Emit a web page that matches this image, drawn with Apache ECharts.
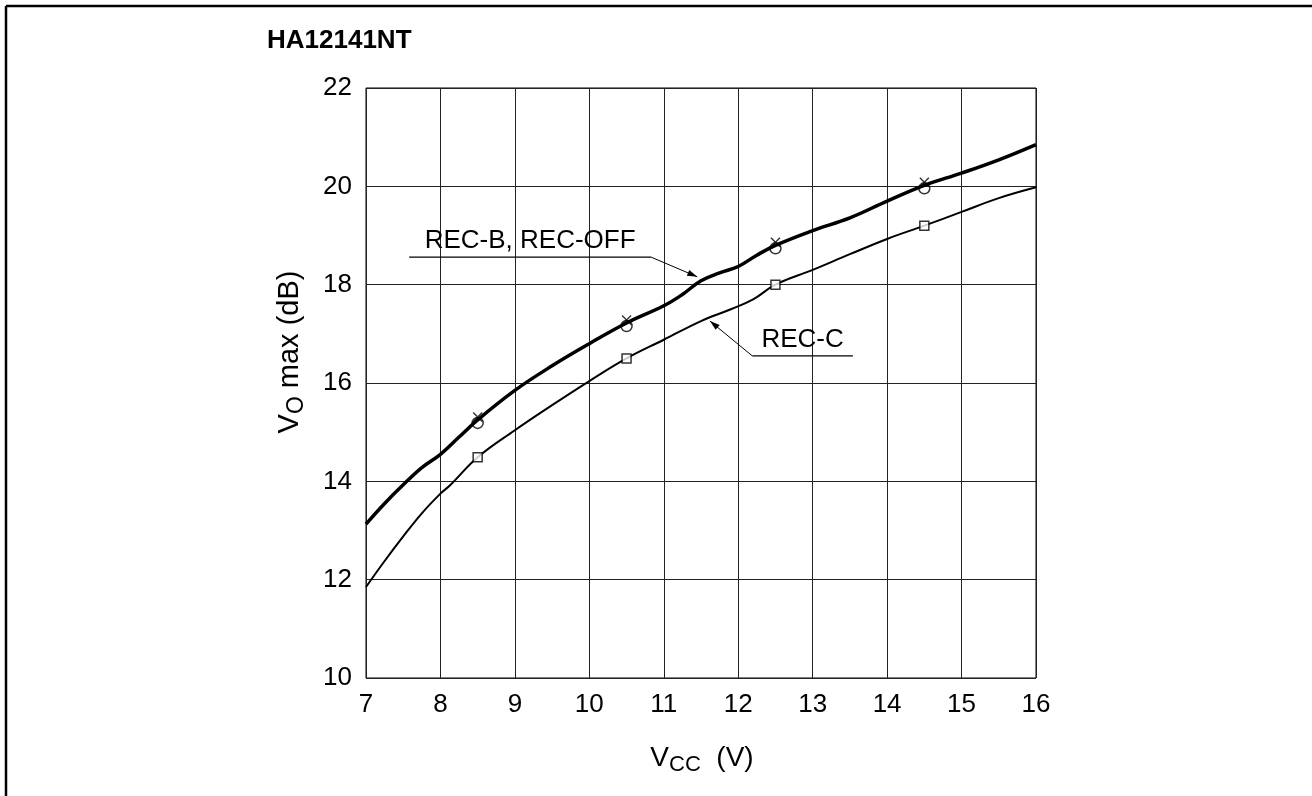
<!DOCTYPE html>
<html>
<head>
<meta charset="utf-8">
<script src="https://cdn.jsdelivr.net/npm/echarts@6/dist/echarts.min.js"></script>
<style>
html,body{margin:0;padding:0;background:#fff;}
#chart{width:1312px;height:796px;}
</style>
</head>
<body>
<div id="chart"></div>
<script>
// ---- data ----
const recBx = [7, 7.25, 7.5, 7.75, 8, 8.25, 8.5, 9, 9.5, 10, 10.5, 11, 11.25, 11.5, 11.75, 12, 12.25, 12.5, 13, 13.5, 14, 14.5, 15, 15.5, 16];
const recBy = [13.13, 13.55, 13.93, 14.28, 14.55, 14.9, 15.25, 15.85, 16.35, 16.8, 17.22, 17.57, 17.8, 18.08, 18.24, 18.37, 18.6, 18.8, 19.1, 19.36, 19.7, 20.02, 20.27, 20.54, 20.85];
const recCx = [7, 7.25, 7.5, 7.75, 8, 8.13, 8.5, 9, 9.5, 10, 10.5, 11, 11.5, 11.9, 12.2, 12.5, 13, 13.5, 14, 14.5, 15, 15.5, 16];
const recCy = [11.85, 12.38, 12.88, 13.35, 13.75, 13.92, 14.49, 15.04, 15.55, 16.04, 16.5, 16.88, 17.26, 17.5, 17.7, 18.0, 18.3, 18.62, 18.93, 19.2, 19.48, 19.76, 19.98];
const markerX = [8.5, 10.5, 12.5, 14.5];
const recBmark = [15.25, 17.22, 18.8, 20.02];
const recCmark = [14.49, 16.5, 18.0, 19.2];
const xTicks = [7, 8, 9, 10, 11, 12, 13, 14, 15, 16];
const yTicks = [10, 12, 14, 16, 18, 20, 22];
const title = 'HA12141NT';
const labelB = 'REC-B, REC-OFF';
const labelC = 'REC-C';
// annotation anchors in data coordinates: [underline far end x, underline leader end x, y, arrow tip x, arrow tip y]
const annB = [7.58, 10.83, 18.56, 11.45, 18.16];
const annC = [13.54, 12.19, 16.55, 11.62, 17.26];

const zip = (xs, ys) => xs.map((x, i) => [x, ys[i]]);
const FONT = '"Liberation Sans", Arial, sans-serif';

const chart = echarts.init(document.getElementById('chart'), null, {renderer: 'canvas'});
const option = {
  backgroundColor: '#fff',
  animation: false,
  grid: {left: 366, top: 88, width: 670, height: 590, show: true, borderColor: '#000', borderWidth: 1, backgroundColor: 'transparent'},
  xAxis: {
    type: 'value', min: xTicks[0], max: xTicks[xTicks.length - 1], interval: 1,
    axisLine: {show: false}, axisTick: {show: false},
    splitLine: {show: true, lineStyle: {color: '#222', width: 1}},
    axisLabel: {color: '#000', fontSize: 26, fontFamily: FONT, margin: 14}
  },
  yAxis: {
    type: 'value', min: yTicks[0], max: yTicks[yTicks.length - 1], interval: 2,
    axisLine: {show: false}, axisTick: {show: false},
    splitLine: {show: true, lineStyle: {color: '#222', width: 1}},
    axisLabel: {color: '#000', fontSize: 26, fontFamily: FONT, margin: 14}
  },
  series: [
    {type: 'line', data: zip(recBx, recBy), smooth: 0.4, showSymbol: false, lineStyle: {color: '#000', width: 3.5}, z: 3},
    {type: 'line', data: zip(recCx, recCy), smooth: 0.4, showSymbol: false, lineStyle: {color: '#000', width: 2}, z: 3},
    {type: 'scatter', data: zip(markerX, recBmark), symbol: 'circle', symbolSize: 11, symbolOffset: [0, 3],
     itemStyle: {color: 'rgba(255,255,255,0)', borderColor: '#000', borderWidth: 1.5}, z: 4},
    {type: 'scatter', data: zip(markerX, recBmark), symbol: 'path://M0,1L1,0L5,4L9,0L10,1L6,5L10,9L9,10L5,6L1,10L0,9L4,5Z', symbolSize: 10, symbolOffset: [0, -3],
     itemStyle: {color: '#000'}, z: 4},
    {type: 'scatter', data: zip(markerX, recCmark), symbol: 'rect', symbolSize: 9,
     itemStyle: {color: '#fff', borderColor: '#000', borderWidth: 1.5}, z: 4}
  ]
};
chart.setOption(option);

function px(p) { return chart.convertToPixel({gridIndex: 0}, p); }
function arrowHead(tip, from, len, half) {
  const dx = tip[0] - from[0], dy = tip[1] - from[1];
  const d = Math.hypot(dx, dy); const ux = dx / d, uy = dy / d;
  const bx = tip[0] - ux * len, by = tip[1] - uy * len;
  return [[tip[0], tip[1]], [bx - uy * half, by + ux * half], [bx + uy * half, by - ux * half]];
}
function annotation(a, text) {
  const p1 = px([a[0], a[2]]), p2 = px([a[1], a[2]]), tip = px([a[3], a[4]]);
  const els = [];
  els.push({type: 'line', shape: {x1: p1[0], y1: p1[1], x2: p2[0], y2: p2[1]}, style: {stroke: '#000', lineWidth: 1.2}, z: 10});
  els.push({type: 'line', shape: {x1: p2[0], y1: p2[1], x2: tip[0], y2: tip[1]}, style: {stroke: '#000', lineWidth: 1}, z: 10});
  els.push({type: 'polygon', shape: {points: arrowHead(tip, p2, 10, 3.2)}, style: {fill: '#000'}, z: 10});
  els.push({type: 'text', x: (p1[0] + p2[0]) / 2, y: p1[1] - 3,
    style: {text: text, fill: '#000', font: '26px ' + FONT, align: 'center', verticalAlign: 'bottom'}, z: 10});
  return els;
}
const graphics = [
  {type: 'line', shape: {x1: 6, y1: 6, x2: 1312, y2: 6}, style: {stroke: '#000', lineWidth: 2.5}},
  {type: 'line', shape: {x1: 6, y1: 6, x2: 6, y2: 796}, style: {stroke: '#000', lineWidth: 2.5}},
  {type: 'text', x: 267, y: 41, style: {text: title, fill: '#000', font: 'bold 26px ' + FONT, verticalAlign: 'middle'}},
  {type: 'text', x: 290, y: 352, rotation: Math.PI / 2,
    style: {text: '{a|V}{s|O}{a| max (dB)}', fill: '#000', align: 'center', verticalAlign: 'middle',
      rich: {a: {fontSize: 29, fontFamily: FONT, color: '#000'}, s: {fontSize: 23, fontFamily: FONT, color: '#000', padding: [13, 0, 0, 0]}}}},
  {type: 'text', x: 702, y: 758,
    style: {text: '{a|V}{s|CC}{a|  (V)}', fill: '#000', align: 'center', verticalAlign: 'middle',
      rich: {a: {fontSize: 28, fontFamily: FONT, color: '#000'}, s: {fontSize: 22, fontFamily: FONT, color: '#000', padding: [13, 0, 0, 0]}}}}
].concat(annotation(annB, labelB)).concat(annotation(annC, labelC));
chart.setOption({graphic: graphics});
</script>
</body>
</html>
